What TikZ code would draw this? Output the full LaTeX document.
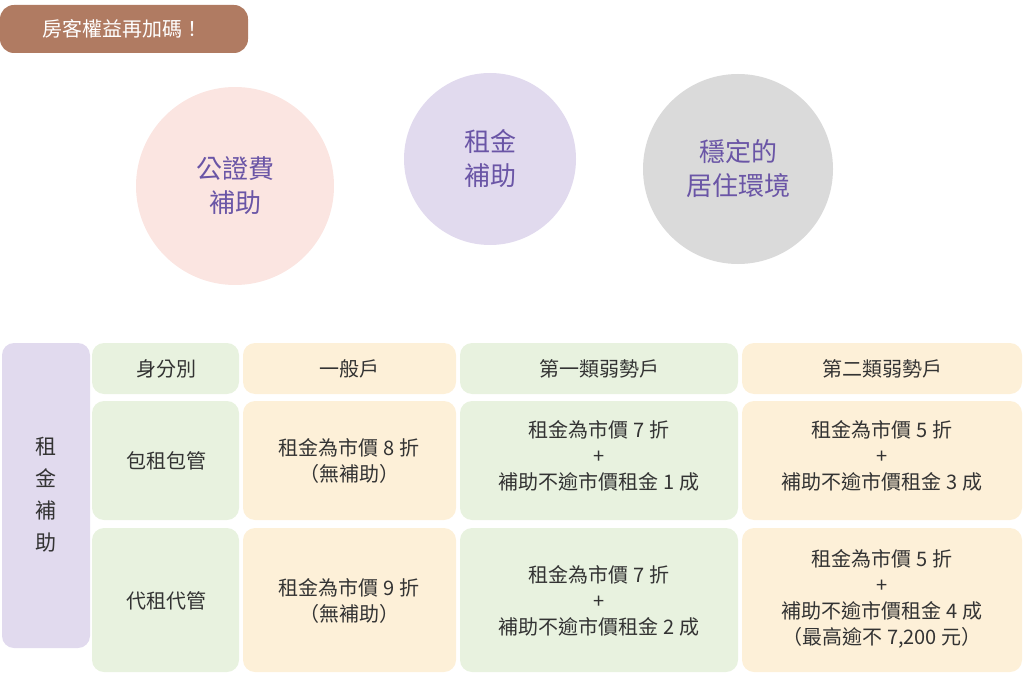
\documentclass[tikz,border=0pt]{standalone}
\usepackage{fontspec}
\setmainfont{Noto Sans CJK TC}
\definecolor{brn}{HTML}{B07B62}
\definecolor{pk}{HTML}{FBE5E1}
\definecolor{lv}{HTML}{E1DAEE}
\definecolor{gy}{HTML}{DADADA}
\definecolor{pu}{HTML}{6A55A6}
\definecolor{gr}{HTML}{E8F2DF}
\definecolor{yl}{HTML}{FDF0D8}
\definecolor{tx}{HTML}{333333}
\begin{document}
\begin{tikzpicture}[x=1pt,y=-1pt,
 circ/.style={circle,inner sep=0pt,text=pu,font=\fontsize{26}{34}\selectfont,align=center},
 cell/.style={rounded corners=12pt,minimum width=0pt},
 tt/.style={text=tx,font=\fontsize{20}{26}\selectfont,align=center}]
\useasboundingbox (0,0) rectangle (1024,676);
\fill[brn,rounded corners=14pt] (0,5) rectangle (248,53);
\node[text=white,font=\fontsize{20}{24}\selectfont] (ban) at (122,29) {房客權益再加碼！};
\node[circ,fill=pk,minimum size=198pt] (c1) at (235,186) {公證費\\補助};
\node[circ,fill=lv,minimum size=172pt] (c2) at (490,159) {租金\\補助};
\node[circ,fill=gy,minimum size=190pt] (c3) at (738,169) {穩定的\\居住環境};
\fill[lv,rounded corners=12pt] (2,343) rectangle (90,648);
\node[tt,font=\fontsize{21}{32}\selectfont] (lt) at (46,495) {租\\金\\補\\助};
% columns
\foreach \xa/\xb/\c [count=\i] in {92/239/gr,243/456/yl,460/738/gr,742/1022/yl}{
 \fill[\c,rounded corners=12pt] (\xa,343) rectangle (\xb,394);
 \fill[\c,rounded corners=12pt] (\xa,401) rectangle (\xb,520);
 \fill[\c,rounded corners=12pt] (\xa,528) rectangle (\xb,672);
}
\node[tt] (h1) at (166,369) {身分別};
\node[tt] (h2) at (349,369) {一般戶};
\node[tt] (h3) at (599,369) {第一類弱勢戶};
\node[tt] (h4) at (882,369) {第二類弱勢戶};
\node[tt] (r1) at (166,461) {包租包管};
\node[tt] (r2) at (166,601) {代租代管};
\node[tt] (a1) at (349,461) {租金為市價 8 折\\（無補助）};
\node[tt] (a2) at (349,601) {租金為市價 9 折\\（無補助）};
\node[tt] (b1) at (599,456) {租金為市價 7 折\\+\\補助不逾市價租金 1 成};
\node[tt] (b2) at (599,601) {租金為市價 7 折\\+\\補助不逾市價租金 2 成};
\node[tt] (d1) at (882,456) {租金為市價 5 折\\+\\補助不逾市價租金 3 成};
\node[tt] (d2) at (882,599) {租金為市價 5 折\\+\\補助不逾市價租金 4 成\\（最高逾不 7,200 元）};
\end{tikzpicture}
\end{document}
